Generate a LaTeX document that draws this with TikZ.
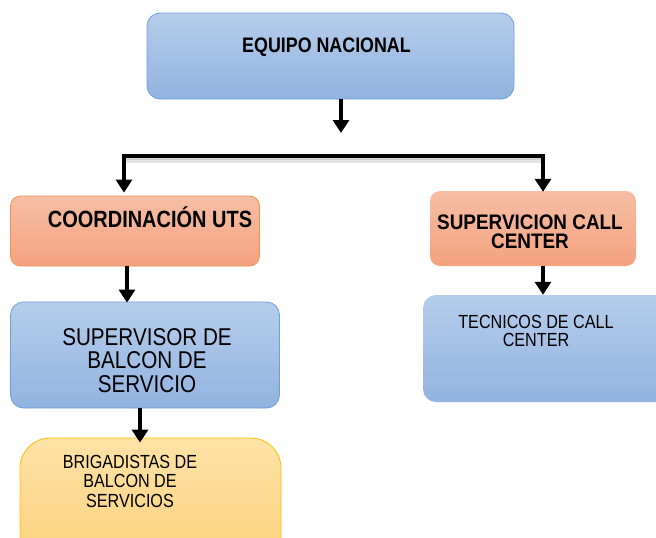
\documentclass[tikz,border=0pt]{standalone}
\usepackage{fontspec}
\setmainfont[FakeStretch=0.85]{Liberation Sans}
\usetikzlibrary{arrows.meta}
\definecolor{bluetop}{HTML}{B5CDEA}
\definecolor{bluebot}{HTML}{92B3E0}
\definecolor{blueedge}{HTML}{6F9FD8}
\definecolor{orangetop}{HTML}{F6BEA5}
\definecolor{orangebot}{HTML}{F4A27F}
\definecolor{orangeedge}{HTML}{F2904F}
\definecolor{yellowtop}{HTML}{FEE2A6}
\definecolor{yellowbot}{HTML}{FCD17B}
\definecolor{yellowedge}{HTML}{FFC000}
\tikzset{
  boxbase/.style={rectangle, inner sep=0pt},
  bluebox/.style={boxbase, rounded corners=13pt, top color=bluetop, bottom color=bluebot, draw=blueedge, line width=0.8pt},
  blueplain/.style={boxbase, rounded corners=13pt, top color=bluetop, bottom color=bluebot},
  orangebox/.style={boxbase, rounded corners=10pt, top color=orangetop, bottom color=orangebot, draw=orangeedge, line width=0.8pt},
  orangeplain/.style={boxbase, rounded corners=10pt, top color=orangetop, bottom color=orangebot},
  yellowbox/.style={boxbase, rounded corners=30pt, top color=yellowtop, bottom color=yellowbot, draw=yellowedge, line width=0.8pt},
  lbl/.style={anchor=base, align=center, inner sep=0pt, text=black},
  arr/.style={line width=4pt, -{Triangle[width=16pt,length=13pt]}},
  barline/.style={line width=4pt},
}
\begin{document}
\begin{tikzpicture}[x=1pt,y=-1pt]
\useasboundingbox (0,0) rectangle (656,538);
\begin{scope}
\clip (0,0) rectangle (656,538);
% boxes
\node[bluebox, minimum width=367pt, minimum height=86pt] (eq) at (330.5,56) {};
\node[orangebox, minimum width=249pt, minimum height=70pt] (coord) at (135,231) {};
\node[bluebox, minimum width=269pt, minimum height=106pt] (sup) at (145,355) {};
\node[yellowbox, minimum width=261pt, minimum height=130pt] (brig) at (150.5,503) {};
\node[orangeplain, minimum width=206pt, minimum height=75pt] (scc) at (533,228.5) {};
\node[blueplain, minimum width=260pt, minimum height=107pt] (tec) at (553,348.5) {};
% texts (multi-line nodes: base = baseline of last line)
\node[lbl, font=\bfseries\fontsize{21}{24}\selectfont] (teq) at (326.5,52) {EQUIPO NACIONAL};
\node[lbl, font=\bfseries\fontsize{23.5}{24}\selectfont] (tcoord) at (150,227) {COORDINACIÓN UTS};
\node[lbl, font=\bfseries\fontsize{21}{19}\selectfont\addfontfeatures{FakeStretch=0.9}] (tscc) at (530,248) {SUPERVICION CALL\\CENTER};
\node[lbl, font=\fontsize{24.3}{23.5}\selectfont] (tsup) at (147,392) {SUPERVISOR DE\\BALCON DE\\SERVICIO};
\node[lbl, font=\fontsize{19}{19.5}\selectfont] (tbrig) at (130,507) {BRIGADISTAS DE\\BALCON DE\\SERVICIOS};
\node[lbl, font=\fontsize{19}{18}\selectfont] (ttec) at (536,346) {TECNICOS DE CALL\\CENTER};
% connectors
\coordinate (tipA) at (341,133);
\coordinate (barL) at (124,155.5);
\coordinate (barR) at (543,155.5);
\draw[line width=5pt, gray!35, line cap=butt] ([yshift=-3pt]barL) -- ([yshift=-3pt]barR);
\draw[line width=3pt, gray!20] ([yshift=-6pt]barL) -- ([yshift=-6pt]barR);
\draw[arr] (eq.south -| tipA) -- (tipA);
\draw[barline] ([xshift=-2pt]barL) -- ([xshift=2pt]barR);
\draw[arr] (barL) -- ([yshift=3pt]barL |- coord.north);
\draw[arr] (barR) -- ([yshift=-1pt]barR |- scc.north);
\draw[arr] (coord.south -| 127,0) -- ([yshift=-1pt]sup.north -| 127,0);
\draw[arr] (sup.south -| 140,0) -- ([yshift=-5pt]brig.north -| 140,0);
\draw[arr] (scc.south -| 543,0) -- (tec.north -| 543,0);
\end{scope}
\end{tikzpicture}
\end{document}
